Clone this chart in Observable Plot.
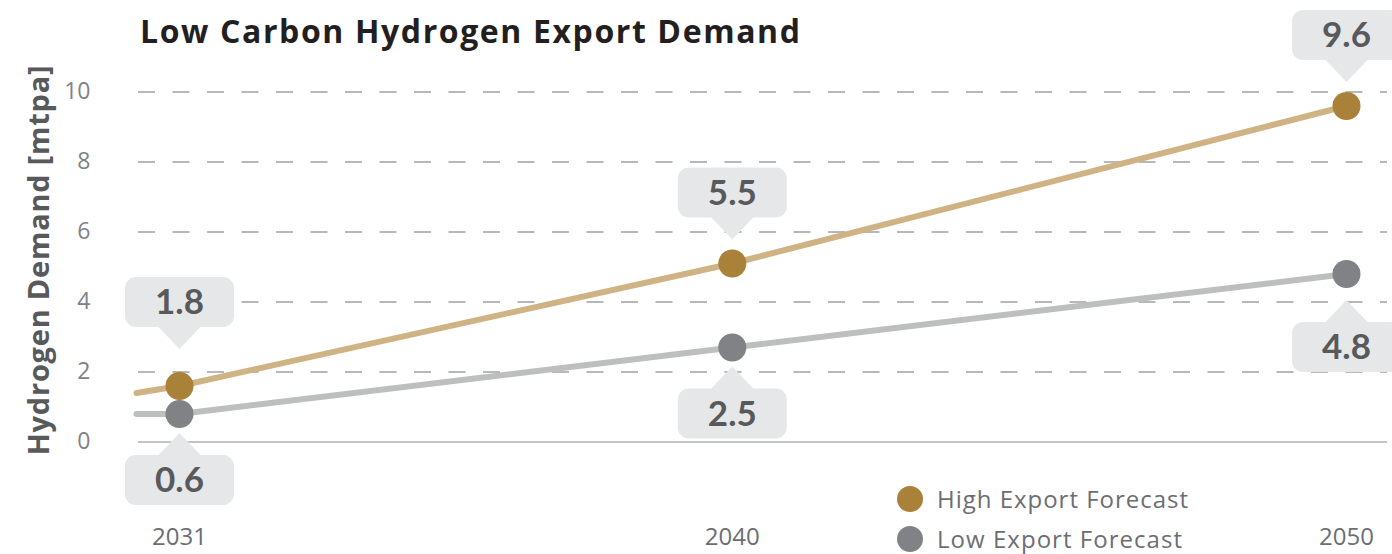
<!DOCTYPE html>
<html>
<head>
<meta charset="utf-8">
<script src="https://cdn.jsdelivr.net/npm/d3@7"></script>
<script src="https://cdn.jsdelivr.net/npm/@observablehq/plot@0.6"></script>
<style>
  html, body { margin: 0; padding: 0; background: #fff; overflow: hidden; }
  #wrap { position: relative; width: 1392px; height: 554px; font-family: "Open Sans", Lato, sans-serif; }
  #title { position: absolute; left: 140px; top: 9px; font-size: 32px; font-weight: 700; color: #231f20; white-space: nowrap; }
  #ylabel { position: absolute; left: 37px; top: 260px; transform: translate(-50%, -50%) rotate(-90deg); font-size: 29px; font-weight: 700; color: #58595b; white-space: nowrap; }
  .leg { position: absolute; left: 897px; display: flex; align-items: center; font-size: 24px; color: #6d6e71; white-space: nowrap; }
  .leg span.sw { width: 26px; height: 26px; border-radius: 50%; display: inline-block; margin-right: 14px; }
  #chart { position: absolute; left: 0; top: 0; }
</style>
</head>
<body>
<div id="wrap">
  <div id="chart"></div>
  <div id="title"></div>
  <div id="ylabel"></div>
  <div id="legend"></div>
</div>
<script>
// ---- data ----
const title = "Low Carbon Hydrogen Export Demand";
const yAxisLabel = "Hydrogen Demand [mtpa]";
const seriesNames = ["High Export Forecast", "Low Export Forecast"];
const years = [2031, 2040, 2050];
const highValues = [1.6, 5.1, 9.6];       // plotted dot positions
const lowValues = [0.8, 2.7, 4.8];
const highLabels = ["1.8", "5.5", "9.6"]; // callout texts
const lowLabels = ["0.6", "2.5", "4.8"];
const lineStartYear = 2030.3;             // lines start slightly before 2031
const highLineStart = 1.4;
const lowLineStart = 0.8;
const yTicks = [0, 2, 4, 6, 8, 10];
const xTicks = [2031, 2040, 2050];

// ---- colours ----
const highDot = "#a98139", highLine = "#cfb384";
const lowDot = "#808285", lowLine = "#bdbec0";
const boxFill = "#e6e7e8", boxText = "#58595b";

// ---- build tables ----
const highLineData = [{year: lineStartYear, value: highLineStart}, ...years.map((y, i) => ({year: y, value: highValues[i]}))];
const lowLineData = [{year: lineStartYear, value: lowLineStart}, ...years.map((y, i) => ({year: y, value: lowValues[i]}))];
const highPts = years.map((y, i) => ({year: y, value: highValues[i], label: highLabels[i], dir: -1}));
const lowPts = years.map((y, i) => ({year: y, value: lowValues[i], label: lowLabels[i], dir: 1}));

// callout shape: rounded box with pointer towards the point
function callout(dir, gap) {
  const w = 109, h = 50, r = 11, ph = 22, pw = 42;
  return {
    draw(ctx) {
      const s = dir;
      const tipY = s * gap, baseY = s * (gap + ph), farY = s * (gap + ph + h);
      ctx.moveTo(0, tipY);
      ctx.lineTo(pw / 2, baseY);
      ctx.lineTo(w / 2 - r, baseY);
      ctx.arcTo(w / 2, baseY, w / 2, baseY + s * r, r);
      ctx.lineTo(w / 2, farY - s * r);
      ctx.arcTo(w / 2, farY, w / 2 - r, farY, r);
      ctx.lineTo(-w / 2 + r, farY);
      ctx.arcTo(-w / 2, farY, -w / 2, farY - s * r, r);
      ctx.lineTo(-w / 2, baseY + s * r);
      ctx.arcTo(-w / 2, baseY, -w / 2 + r, baseY, r);
      ctx.lineTo(-pw / 2, baseY);
      ctx.closePath();
    }
  };
}
// gap between dot centre and pointer tip (layout only)
function gapFor(p, i) {
  if (p.dir < 0) return i === 0 ? 37 : 24;
  return i === 2 ? 26 : 19;
}

const calloutMarks = [];
[highPts, lowPts].forEach(pts => {
  pts.forEach((p, i) => {
    const g = gapFor(p, i);
    calloutMarks.push(Plot.dot([p], {x: "year", y: "value", r: 1, symbol: callout(p.dir, g), fill: boxFill, stroke: "none"}));
    calloutMarks.push(Plot.text([p], {x: "year", y: "value", text: "label", dy: p.dir * (g + 22 + 25) + 1,
      fontSize: 35, fontWeight: 700, fill: boxText, fontFamily: "Lato, 'Open Sans', sans-serif"}));
  });
});

const chart = Plot.plot({
  width: 1392,
  height: 554,
  marginLeft: 138,
  marginRight: 5,
  marginTop: 91.5,
  marginBottom: 112.5,
  style: {fontFamily: "'Open Sans', Lato, sans-serif", background: "transparent", overflow: "visible"},
  x: {type: "linear", domain: [2031, 2050], range: [179, 1346]},
  y: {type: "linear", domain: [0, 10]},
  marks: [
    Plot.ruleY(yTicks.filter(d => d !== 0), {stroke: "#b8b8b8", strokeWidth: 2, strokeDasharray: "17,17.5"}),
    Plot.ruleY([0], {stroke: "#c4c4c4", strokeWidth: 2}),
    Plot.axisY(yTicks, {tickSize: 0, tickPadding: 48, fontSize: 23, color: "#808285", label: null, tickFormat: d => `${d}`}),
    Plot.axisX(xTicks, {tickSize: 0, tickPadding: 86, fontSize: 24, color: "#6d6e71", label: null, tickFormat: d => `${d}`}),
    Plot.line(lowLineData, {x: "year", y: "value", stroke: lowLine, strokeWidth: 6, strokeLinecap: "round"}),
    Plot.line(highLineData, {x: "year", y: "value", stroke: highLine, strokeWidth: 6, strokeLinecap: "round"}),
    Plot.dot(lowPts, {x: "year", y: "value", r: 14, fill: lowDot, stroke: "none"}),
    Plot.dot(highPts, {x: "year", y: "value", r: 14, fill: highDot, stroke: "none"}),
    ...calloutMarks
  ]
});
document.getElementById("chart").appendChild(chart);

// fit text widths to the reference layout via letter spacing
function fitWidth(el, target) {
  const n = el.textContent.length;
  const w = el.getBoundingClientRect().width;
  if (n > 1) el.style.letterSpacing = ((target - w) / (n - 1)) + "px";
}
const titleEl = document.getElementById("title");
titleEl.textContent = title;
fitWidth(titleEl, 660);

const yl = document.getElementById("ylabel");
yl.textContent = yAxisLabel;
const ylW = yl.offsetWidth;
yl.style.letterSpacing = ((390 - ylW) / (yAxisLabel.length - 1)) + "px";

const legend = document.getElementById("legend");
[[seriesNames[0], highDot, 482, 251], [seriesNames[1], lowDot, 522, 245]].forEach(([name, col, top, tw]) => {
  const d = document.createElement("div");
  d.className = "leg";
  d.style.top = top + "px";
  d.innerHTML = `<span class="sw" style="background:${col}"></span><span></span>`;
  d.lastChild.textContent = name;
  legend.appendChild(d);
  fitWidth(d.lastChild, tw);
});
</script>
</body>
</html>
